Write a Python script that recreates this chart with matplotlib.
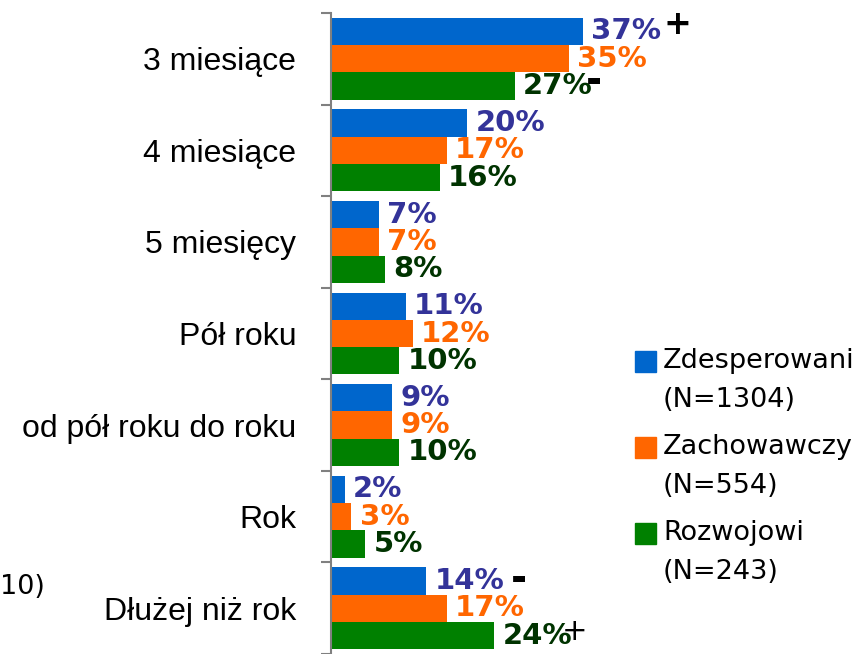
"""Horizontal grouped bars: preferred period, three segments."""

import numpy as np
import matplotlib.pyplot as plt
from matplotlib.patches import Rectangle

#------data------
categories = ['3 miesiące', '4 miesiące', '5 miesięcy', 'Pół roku',
              'od pół roku do roku', 'Rok', 'Dłużej niż rok']
zdesperowani = [37, 20, 7, 11, 9, 2, 14]
zachowawczy = [35, 17, 7, 12, 9, 3, 17]
rozwojowi = [27, 16, 8, 10, 10, 5, 24]
series_names = ['Zdesperowani\n(N=1304)', 'Zachowawczy\n(N=554)',
                'Rozwojowi\n(N=243)']
# significance marks: (category index, series index, sign)
marks = [(0, 0, '+'), (0, 2, '-'), (6, 0, '-'), (6, 2, '+')]

bar_colors = ['#0066CC', '#FF6600', '#008000']
label_colors = ['#333399', '#FF6600', '#003300']

#------figure------
fig = plt.figure(figsize=(8.55, 6.54), dpi=100)
ax = fig.add_axes([331/855, 0.0, 524/855, 1 - 13/654])

values = [zdesperowani, zachowawczy, rozwojowi]
y = np.arange(len(categories))
h = 0.298
offsets = [-h, 0, h]

for s, vals in enumerate(values):
    ax.barh(y + offsets[s], vals, height=h, color=bar_colors[s],
            edgecolor='none', zorder=2)
    for i, v in enumerate(vals):
        ax.annotate('{}%'.format(v), (v, y[i] + offsets[s]),
                    xytext=(6, 0), textcoords='offset points',
                    ha='left', va='center', fontsize=21,
                    fontweight='bold', color=label_colors[s],
                    family='DejaVu Sans')

# +/- marks next to labels (offsets in points from bar end)
mark_dx = {(0, 0): 68, (0, 2): 57, (6, 0): 67, (6, 2): 58}
mark_dy = {(0, 0): 5, (0, 2): 3, (6, 0): 1, (6, 2): 3}
for ci, si, sign in marks:
    v = values[si][ci]
    if sign == '+':
        weight = 'bold' if (ci, si) == (0, 0) else 'normal'
        size = 24 if weight == 'bold' else 22
    else:
        weight, size = 'heavy', 28
    ax.annotate(sign, (v, y[ci] + offsets[si]),
                xytext=(mark_dx[(ci, si)], mark_dy[(ci, si)]),
                textcoords='offset points', ha='center', va='center',
                fontsize=size, fontweight=weight, color='black')

ax.set_xlim(0, 524/6.8)
ax.set_ylim(len(categories) - 0.5, -0.5)

for sp in ['top', 'right', 'bottom']:
    ax.spines[sp].set_visible(False)
ax.spines['left'].set_color('#808080')
ax.spines['left'].set_linewidth(1.5)
ax.set_xticks([])

ax.set_yticks(y)
ax.set_yticklabels(categories, fontsize=23, family='Liberation Sans')
ax.tick_params(axis='y', which='major', length=0, pad=25)
ax.set_yticks(np.arange(len(categories) + 1) - 0.5, minor=True)
ax.tick_params(axis='y', which='minor', length=7, width=1.5,
               color='#808080', direction='out')

#------legend (manual, first line beside the square)------
legend_y = [361, 447, 533]
for s, name in enumerate(series_names):
    yc = 1 - legend_y[s]/654
    fig.patches.append(Rectangle((635/855, yc - 10.5/654), 21/855, 21/654,
                                 transform=fig.transFigure,
                                 color=bar_colors[s]))
    first, second = name.split('\n')
    fig.text(663/855, yc, first, fontsize=19.5, va='center', ha='left',
             family='DejaVu Sans')
    fig.text(663/855, yc - 39/654, second, fontsize=19.5, va='center',
             ha='left', family='DejaVu Sans')

# cut-off fragment at left edge
fig.text(0.0, 1 - 587/654, '10)', fontsize=19.5, va='center', ha='left',
         family='DejaVu Sans')

fig.savefig('out.png', dpi=100)
